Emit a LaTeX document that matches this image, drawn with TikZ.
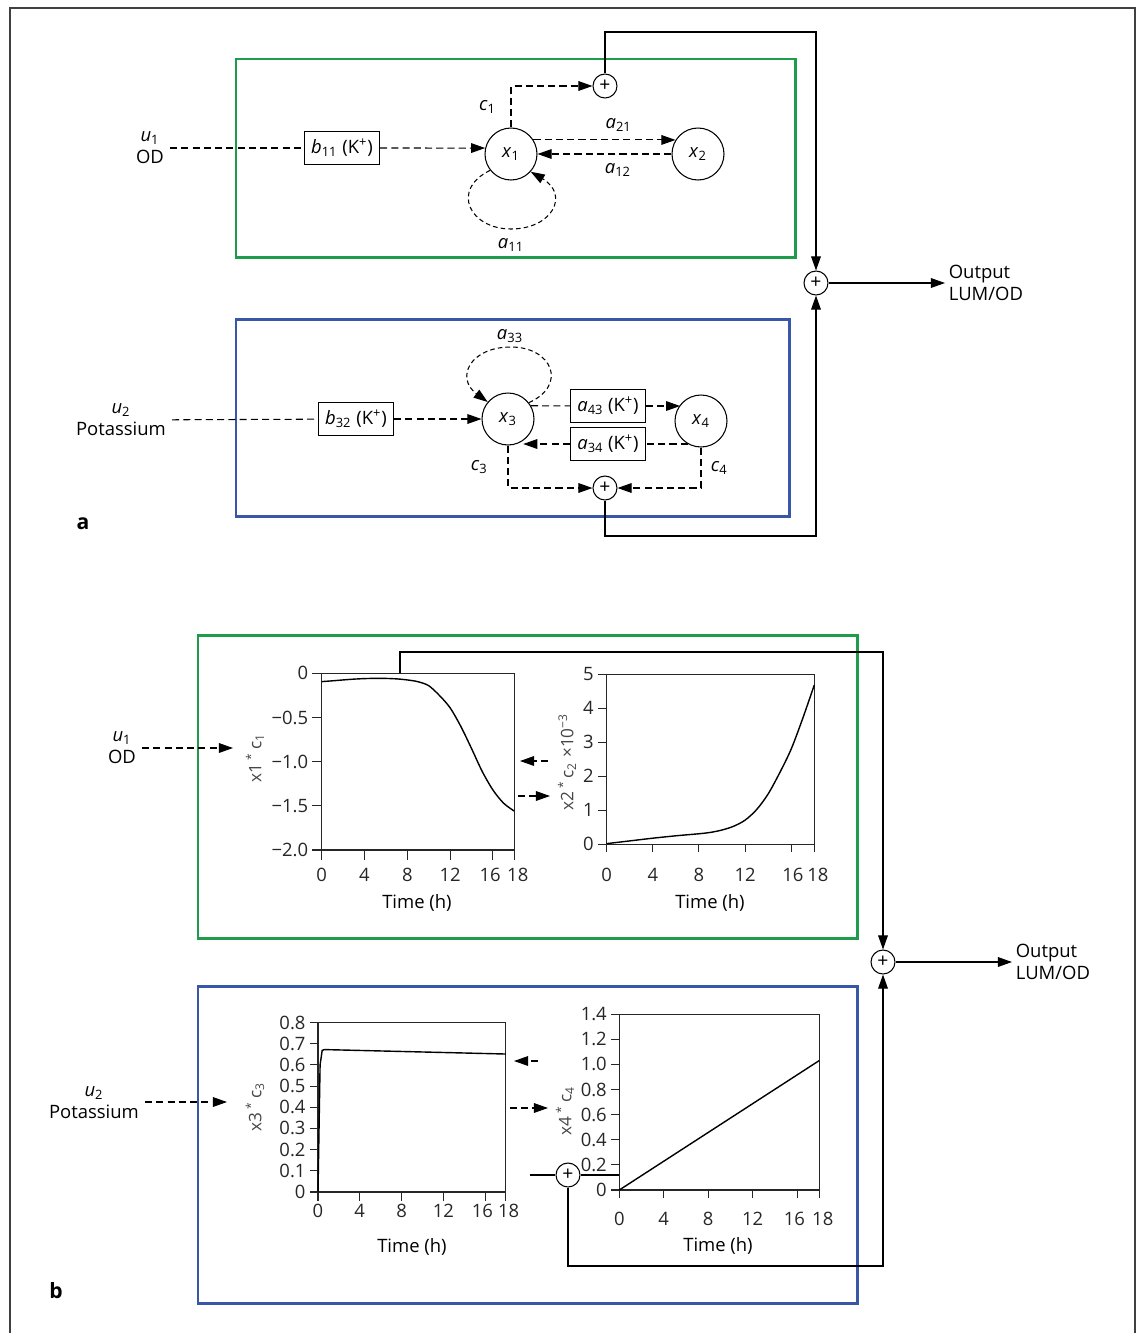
\documentclass[tikz,border=0pt]{standalone}
\usepackage{fontspec}
\setmainfont{Open Sans}
\usepackage{tikz}
\usetikzlibrary{positioning, arrows.meta, calc}
\definecolor{boxgreen}{RGB}{30,156,76}
\definecolor{boxblue}{RGB}{58,86,166}
\definecolor{axisgray}{RGB}{70,70,70}
\newcommand{\vsub}[2]{\textit{#1}\textsubscript{#2}}
\newcommand{\kplus}{(K\textsuperscript{+})}
\tikzset{
  statenode/.style={circle, draw=black, line width=0.6pt, minimum size=1.04cm, inner sep=0pt},
  sumnode/.style={circle, draw=black, line width=0.6pt, minimum size=0.48cm, inner sep=0pt, font=\fontsize{11}{11}\selectfont},
  gainbox/.style={rectangle, draw=black, line width=0.6pt, minimum width=1.5cm, minimum height=0.66cm, inner sep=1pt},
  flow/.style={line width=0.6pt, dash pattern=on 4pt off 2.4pt},
  arrow/.style={flow, -{Triangle[length=8pt, width=5.5pt]}},
  signal/.style={line width=0.6pt, -{Triangle[length=8pt, width=5.5pt]}},
  loopflow/.style={arrow, dash pattern=on 2.6pt off 1.8pt}
}

\begin{document}
\begin{tikzpicture}[
    x=0.02cm, y=-0.02cm,
    every node/.style={font=\fontsize{10.5}{12.5}\selectfont},
    framebox/.style={line width=1.7pt},
    axisbox/.style={line width=0.6pt, draw=black!85},
    curve/.style={line width=0.8pt},
    ticklbl/.style={inner sep=2pt, text=black!85},
    axlbl/.style={font=\fontsize{9.8}{11}\selectfont, text=axisgray, rotate=90},
    panellbl/.style={font=\bfseries\fontsize{12}{14}\selectfont}
  ]
  \useasboundingbox (0,0) rectangle (1143,1333);
  % Marco exterior
  \draw [line width=1pt, black!75] (10,1333) -- (10,8) -- (1135,8) -- (1135,1333);

  %%% Panel a
  % Cajas de los submodelos
  \draw [framebox, boxgreen] (236,59) rectangle (795,257);
  \draw [framebox, boxblue] (236,319) rectangle (789,516);

  % Submodelo superior (OD)
  \node (u1a) [align=center] at (150,148) {\vsub{u}{1}\\OD};
  \node (b11) [gainbox] at (342,148) {\vsub{b}{11} \kplus};
  \node (x1) [statenode] at (511,154) {\vsub{x}{1}};
  \node (x2) [statenode] at (698,154) {\vsub{x}{2}};
  \node (s1) [sumnode] at (605,86) {+};
  \node (a11) at (511,245) {\vsub{a}{11}};
  \coordinate (topa) at (816,32);

  \draw [flow] (u1a) -- (b11);
  \draw [arrow] (b11) -- (x1.167);
  \draw [arrow] (x1.32) -- node[above=1pt, pos=0.6] {\vsub{a}{21}} (x2.148);
  \draw [arrow] (x2) -- node[below=2pt, pos=0.4] {\vsub{a}{12}} (x1);
  \draw [loopflow] (x1.218) .. controls (450,190) and (470,229) .. (511,229)
    .. controls (552,229) and (570,195) .. (x1.-42);
  \draw [arrow] (x1.north) |- node[pos=0.25, left=5pt] {\vsub{c}{1}} (s1);

  % Submodelo inferior (potasio)
  \node (u2a) [align=center] at (121,420) {\vsub{u}{2}\\Potassium};
  \node (b32) [gainbox] at (356,419) {\vsub{b}{32} \kplus};
  \node (x3) [statenode] at (508,419) {\vsub{x}{3}};
  \node (x4) [statenode] at (701,421) {\vsub{x}{4}};
  \node (a43) [gainbox] at (608,406) {\vsub{a}{43} \kplus};
  \node (a34) [gainbox] at (608,444) {\vsub{a}{34} \kplus};
  \node (s3) [sumnode] at (605,488) {+};
  \node (a33) at (510,336) {\vsub{a}{33}};
  \coordinate (bota) at (816,536);

  \draw [flow] (u2a) -- (b32);
  \draw [arrow] (b32) -- (x3);
  \draw [flow] (x3.30) -- (a43);
  \draw [arrow] (a43) -- (a43 -| x4.142);
  \draw [flow] (a34 -| x4.-120) -- (a34);
  \draw [arrow] (a34) -- (a34 -| x3.-55);
  \draw [loopflow] (x3.38) .. controls (568,385) and (552,347) .. (511,347)
    .. controls (470,347) and (455,378) .. (x3.140);
  \draw [arrow] (x3.south) |- node[pos=0.25, left=8pt] {\vsub{c}{3}} (s3);
  \draw [arrow] (x4.south) |- node[pos=0.25, right=2pt] {\vsub{c}{4}} (s3);

  % Salida del panel a
  \node (sa) [sumnode] at (816,283) {+};
  \node (outa) [anchor=west, align=left, inner sep=2pt] at (945,283) {Output\\LUM/OD};
  \draw [signal] (s1.north) |- (topa) -- (sa);
  \draw [signal] (s3.south) |- (bota) -- (sa);
  \draw [signal] (sa) -- (outa);
  \node (lbla) [panellbl] at (83,524) {a};

  %%% Panel b
  \draw [framebox, boxgreen] (198,635) rectangle (857,938);
  \draw [framebox, boxblue] (198,986) rectangle (857,1303);

  % Grafica x1*c1
  \begin{scope}[shift={(321.7,673.3)}, x=0.214cm, y=1.767cm]
    \draw [axisbox] (0,-2) rectangle (18,0);
    \foreach \v/\lbl [count=\i] in {0/0, -0.5/−0.5, -1/−1.0, -1.5/−1.5, -2/−2.0}
      \draw [axisbox] (0,\v) -- ++(-0.19cm,0) node (pay\i) [left, ticklbl] {\lbl};
    \foreach \t/\dx in {0/0, 4/0, 8/0, 12/0, 16/-1.5, 18/2}
      \draw [axisbox] (\t,-2) -- ++(0,-0.2cm) node (pax\t) [below=2.5pt, ticklbl, xshift=\dx pt] {\t};
    \draw [curve] plot[smooth] coordinates {(0,-0.094) (1,-0.085) (2,-0.075) (3,-0.066)
      (4,-0.06) (5,-0.057) (6,-0.058) (7,-0.063) (8,-0.075) (9,-0.095) (10,-0.14)
      (11,-0.25) (12,-0.39) (13,-0.6) (14,-0.85) (15,-1.11) (16,-1.32) (17,-1.47) (18,-1.56)};
  \end{scope}
  \node (timea) at (417,903) {Time (h)};
  \node (ylaba) [axlbl] at (255,758) {x1\,\textsuperscript{*}\,c\textsubscript{1}};

  % Grafica x2*c2
  \begin{scope}[shift={(606.7,844.3)}, x=0.2307cm, y=0.681cm]
    \draw [axisbox] (0,0) rectangle (18,5);
    \foreach \v in {0,1,...,5}
      \draw [axisbox] (0,\v) -- ++(-0.18cm,0) node (pby\v) [left, ticklbl] {\v};
    \foreach \t/\dx in {0/0, 4/0, 8/0, 12/0, 16/1, 18/2}
      \draw [axisbox] (\t,0) -- ++(0,-0.15cm) node (pbx\t) [below=6.8pt, ticklbl, xshift=\dx pt] {\t};
    \draw [curve] plot[smooth] coordinates {(0,0.02) (2,0.1) (4,0.18) (6,0.25) (8,0.31)
      (9,0.35) (10,0.42) (11,0.53) (12,0.71) (13,1.02) (14,1.48) (15,2.1) (16,2.8)
      (17,3.7) (18,4.68)};
  \end{scope}
  \node (timeb) at (710,903) {Time (h)};
  \node (ylabb) [axlbl] at (567,762) {x2\,\textsuperscript{*}\,c\textsubscript{2} ×10\textsuperscript{−3}};

  % Grafica x3*c3
  \begin{scope}[shift={(318,1192)}, x=0.2089cm, y=4.24cm]
    \draw [axisbox] (0,0) rectangle (18,0.8);
    \foreach \v/\lbl [count=\i] in {0/0, 0.1/0.1, 0.2/0.2, 0.3/0.3, 0.4/0.4, 0.5/0.5, 0.6/0.6, 0.7/0.7, 0.8/0.8}
      \draw [axisbox] (0,\v) -- ++(-0.17cm,0) node (pcy\i) [left, ticklbl] {\lbl};
    \foreach \t/\dx in {0/0, 4/0, 8/0, 12/0, 16/-1.5, 18/1.5}
      \draw [axisbox] (\t,0) -- ++(0,-0.17cm) node (pcx\t) [below=0pt, ticklbl, xshift=\dx pt] {\t};
    \draw [curve] plot coordinates {(0,0) (0.2,0.6) (0.4,0.668) (0.6,0.672) (18,0.651)};
  \end{scope}
  \node (timec) at (412,1247) {Time (h)};
  \node (ylabc) [axlbl] at (255,1107) {x3\,\textsuperscript{*}\,c\textsubscript{3}};

  % Grafica x4*c4
  \begin{scope}[shift={(619.3,1190)}, x=0.2222cm, y=2.514cm]
    \draw [axisbox] (0,0) rectangle (18,1.4);
    \foreach \v/\lbl [count=\i] in {0/0, 0.2/0.2, 0.4/0.4, 0.6/0.6, 0.8/0.8, 1/1.0, 1.2/1.2, 1.4/1.4}
      \draw [axisbox] (0,\v) -- ++(-0.17cm,0) node (pdy\i) [left, ticklbl] {\lbl};
    \foreach \t/\dx in {0/0, 4/0, 8/0, 12/0, 16/-1.5, 18/2}
      \draw [axisbox] (\t,0) -- ++(0,-0.16cm) node (pdx\t) [below=5.7pt, ticklbl, xshift=\dx pt] {\t};
    \draw [curve] (0,0) -- (18,1.03);
  \end{scope}
  \node (timed) at (718,1246) {Time (h)};
  \node (ylabd) [axlbl] at (565,1111) {x4\,\textsuperscript{*}\,c\textsubscript{4}};

  % Entradas del panel b
  \node (u1b) [align=center] at (122,748) {\vsub{u}{1}\\OD};
  \node (u2b) [align=center] at (94,1103) {\vsub{u}{2}\\Potassium};
  \coordinate (in1) at (233,748);
  \coordinate (in2) at (227,1102);
  \draw [arrow] (u1b) -- (in1);
  \draw [arrow] (u2b.east |- in2) -- (in2);

  % Flechas entre graficas
  \coordinate (fa1) at (548,761);  \coordinate (fa2) at (520,761);
  \coordinate (fb1) at (518,796);  \coordinate (fb2) at (550,796);
  \coordinate (fc1) at (538,1061); \coordinate (fc2) at (514,1061);
  \coordinate (fd1) at (510,1108); \coordinate (fd2) at (548,1108);
  \draw [arrow] (fa1) -- (fa2);
  \draw [arrow] (fb1) -- (fb2);
  \draw [arrow] (fc1) -- (fc2);
  \draw [arrow] (fd1) -- (fd2);

  % Salida del panel b
  \node (sb) [sumnode] at (883,962) {+};
  \node (outb) [anchor=west, align=left, inner sep=2pt] at (1012,962) {Output\\LUM/OD};
  \node (s4) [sumnode] at (568,1175) {+};
  \coordinate (s4in) at (530,1175);
  \coordinate (s4ax) at (619.3,1175);
  \coordinate (p1top) at (400,673.3);
  \coordinate (topb) at (883,652);
  \coordinate (botb) at (883,1266);
  \draw [line width=0.6pt] (s4in) -- (s4) -- (s4ax);
  \draw [signal] (p1top) |- (topb) -- (sb);
  \draw [signal] (s4) |- (botb) -- (sb);
  \draw [signal] (sb) -- (outb);
  \node (lblb) [panellbl] at (56,1291) {b};
\end{tikzpicture}
\end{document}
